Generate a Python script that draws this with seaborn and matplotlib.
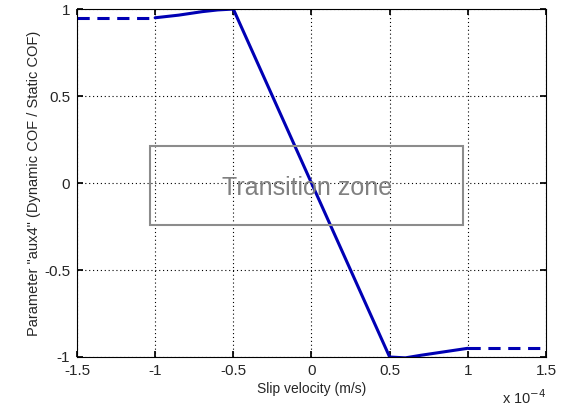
import numpy as np
import pandas as pd
import matplotlib
matplotlib.use("Agg")
import matplotlib.pyplot as plt
import seaborn as sns
from matplotlib.patches import Rectangle

sns.set_theme(style="white")
plt.rcParams['font.family'] = ['Liberation Sans', 'DejaVu Sans']

# slip velocity in units of 1e-4 m/s
curve_v = [-1.0, -0.85, -0.7, -0.6, -0.5, 0.5, 0.6, 0.7, 0.85, 1.0]
curve_aux = [0.95, 0.965, 0.985, 0.995, 1.0, -1.0, -1.005, -0.99, -0.97, -0.95]
left_v = [-1.5, -1.0]
left_aux = [0.95, 0.95]
right_v = [1.0, 1.5]
right_aux = [-0.95, -0.95]

xticks = [-1.5, -1, -0.5, 0, 0.5, 1, 1.5]
xticklabels = ["-1.5", "-1", "-0.5", "0", "0.5", "1", "1.5"]
yticks = [-1, -0.5, 0, 0.5, 1]
yticklabels = ["-1", "-0.5", "0", "0.5", "1"]

line_color = "#0000b4"

fig = plt.figure(figsize=(5.62, 4.12), dpi=100)
ax = fig.add_axes([0.137, 0.1335, 0.8345, 0.8445])

df = pd.DataFrame({"v": curve_v, "aux": curve_aux})
sns.lineplot(data=df, x="v", y="aux", sort=False, color=line_color, linewidth=2.2, ax=ax)
sns.lineplot(x=left_v, y=left_aux, color=line_color, linewidth=2.2,
             linestyle=(0, (4, 2.5)), ax=ax)
sns.lineplot(x=right_v, y=right_aux, color=line_color, linewidth=2.2,
             linestyle=(0, (4, 2.5)), ax=ax)

# transition zone box
ax.add_patch(Rectangle((-1.03, -0.24), 2.0, 0.455, fill=False,
                       edgecolor="#8c8c8c", linewidth=1.5, zorder=3))
ax.text(-0.03, -0.03, "Transition zone", color="#808080", fontsize=18,
        ha="center", va="center", zorder=4)

ax.set_xlim(-1.5, 1.5)
ax.set_ylim(-1, 1)
ax.set_xticks(xticks)
ax.set_xticklabels(xticklabels)
ax.set_yticks(yticks)
ax.set_yticklabels(yticklabels)
ax.grid(True, color="black", linestyle=(0, (1, 2.5)), linewidth=0.8)
ax.tick_params(direction="in", length=4, labelsize=11, color="black",
               top=True, right=True, bottom=True, left=True, pad=5)
for s in ax.spines.values():
    s.set_color("black")
    s.set_linewidth(0.8)

ax.set_xlabel("Slip velocity (m/s)", fontsize=10, labelpad=3)
ax.set_ylabel('Parameter "aux4" (Dynamic COF / Static COF)', fontsize=10.5, labelpad=2)
ax.text(1.0, -0.09, r"x 10$^{-4}$", transform=ax.transAxes, ha="right", va="top",
        fontsize=10.5)

fig.savefig("out.png", dpi=100)
